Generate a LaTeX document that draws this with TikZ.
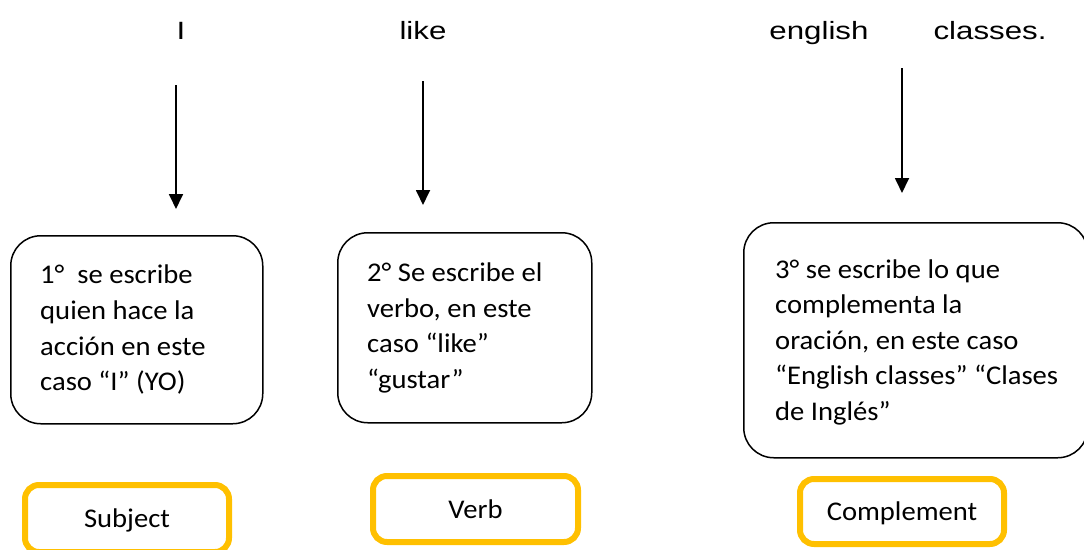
\documentclass[tikz,border=0pt]{standalone}
\usepackage{fontspec}
\setmainfont{Carlito}
\newfontfamily\wordfont[FakeStretch=1.25]{Liberation Sans}
\newfontfamily\boxfont[FakeStretch=1.06]{Carlito}
\usetikzlibrary{arrows.meta}
\definecolor{gold}{HTML}{FFC000}
\begin{document}
\begin{tikzpicture}[x=1pt,y=-1pt,
  word/.style={font=\wordfont\fontsize{25}{29}\selectfont, anchor=base, inner sep=0},
  arr/.style={line width=1.8pt, -{Triangle[length=15pt,width=14pt]}},
  tbox/.style={draw=black, line width=1.5pt, rounded corners=30pt, anchor=north west, inner sep=0},
  btext/.style={font=\boxfont\fontsize{27}{35.6}\selectfont, align=left, anchor=west, inner sep=0},
  ybox/.style={draw=gold, line width=6pt, rounded corners=14pt, inner sep=0,
     font=\boxfont\fontsize{27}{32}\selectfont, text height=18pt, text depth=0pt}
]
\useasboundingbox (0,0) rectangle (1084,549);
\clip (0,0) rectangle (1084,549);

% top words
\node[word] (wI) at (181,39) {I};
\node[word] (wlike) at (423,39) {like};
\node[word] (weng) at (819,39) {english};
\node[word] (wcls) at (990,39) {classes.};

% boxes
\node[tbox, minimum width=252pt, minimum height=188pt] (b1) at (10,235) {};
\node[tbox, minimum width=254pt, minimum height=190pt] (b2) at (337,232) {};
\node[tbox, minimum width=344pt, minimum height=235pt] (b3) at (743,222) {};

\node[btext] (t1) at ([xshift=30pt]b1.west) {1°\ \ se escribe\\quien hace la\\acción en este\\caso “I” (YO)};
\node[btext] (t2) at ([xshift=30pt]b2.west) {2° Se escribe el\\verbo, en este\\caso “like”\\“gustar”};
\node[btext] (t3) at ([xshift=32pt,yshift=-2pt]b3.west) {3° se escribe lo que\\complementa la\\oración, en este caso\\“English classes” “Clases\\de Inglés”};

% arrows
\coordinate (a1s) at (176,85);  \coordinate (a1e) at (176,209);
\coordinate (a2s) at (423,81);  \coordinate (a2e) at (423,205);
\coordinate (a3s) at (902,68);  \coordinate (a3e) at (902,193);
\draw[arr] (a1s) -- (a1e);
\draw[arr] (a2s) -- (a2e);
\draw[arr] (a3s) -- (a3e);

% category boxes
\node[ybox, minimum width=204pt, minimum height=67pt] (ys) at (127,518.5) {Subject};
\node[ybox, minimum width=205pt, minimum height=66pt] (yv) at (475.5,509) {Verb};
\node[ybox, minimum width=204pt, minimum height=65pt] (yc) at (902,511.5) {Complement};
\end{tikzpicture}
\end{document}
